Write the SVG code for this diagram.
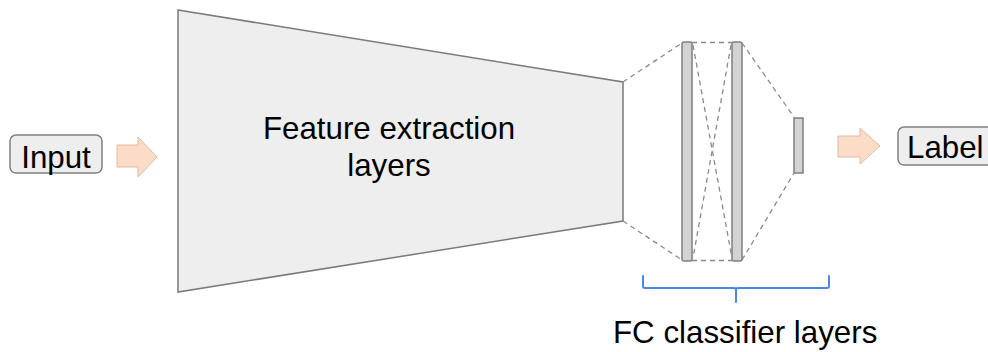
<svg xmlns="http://www.w3.org/2000/svg" width="988" height="352" viewBox="0 0 988 352">
  <style>
    text { font-family: "Liberation Sans", Arial, sans-serif; font-size: 31.3px; fill: #000; }
    .box { fill: #eeeeee; stroke: #808080; stroke-width: 1.5; }
    .trap { fill: #eeeeee; stroke: #7a7a7a; stroke-width: 1.5; }
    .bar { fill: #d3d3d3; stroke: #7f7f7f; stroke-width: 1.5; }
    .dash { fill: none; stroke: #8a8a8a; stroke-width: 1.3; stroke-dasharray: 5 4; }
    .arrow { fill: #fcdcc6; stroke: #dcbba4; stroke-width: 1; }
    .brace { fill: none; stroke: #4a86e8; stroke-width: 2; stroke-linejoin: round; stroke-linecap: round; }
  </style>

  <!-- input -->
  <g id="input">
    <rect class="box" x="10" y="135" width="92" height="38" rx="6"/>
    <text x="56" y="168" text-anchor="middle">Input</text>
  </g>

  <!-- feature extraction block -->
  <g id="feature-extraction">
    <polygon class="trap" points="178,10 623,82 623,221 178,292"/>
    <text x="389" y="139" text-anchor="middle">Feature extraction</text>
    <text x="389" y="176" text-anchor="middle">layers</text>
  </g>

  <!-- fully connected layers -->
  <g id="fc1">
    <rect class="bar" x="682" y="42" width="10" height="219" rx="2"/>
  </g>
  <g id="fc2">
    <rect class="bar" x="732" y="42" width="10" height="219" rx="2"/>
  </g>
  <g id="fc-out">
    <rect class="bar" x="794" y="118" width="9" height="55"/>
  </g>

  <!-- output -->
  <g id="label">
    <rect class="box" x="898" y="127" width="100" height="38" rx="6"/>
    <text x="907" y="158">Label</text>
  </g>

  <!-- bracket and caption -->
  <g id="fc-caption">
    <path class="brace" d="M643,276 V286 Q643,288 645,288 H734 Q736,288 736,290 V302 M736,290 Q736,288 738,288 H827 Q829,288 829,286 V276"/>
    <text x="613" y="343">FC classifier layers</text>
  </g>

  <!-- connectors -->
  <g id="connectors">
    <path class="arrow" d="M117,145 H138 V137 L157,157 L138,177 V167 H117 Z"/>
    <path class="arrow" d="M838,136 H860 V128 L880,146 L860,164 V157 H838 Z"/>
    <line class="dash" x1="623" y1="82" x2="682" y2="43"/>
    <line class="dash" x1="623" y1="221" x2="682" y2="260"/>
    <line class="dash" x1="692" y1="42.5" x2="732" y2="42.5"/>
    <line class="dash" x1="692" y1="260.5" x2="732" y2="260.5"/>
    <line class="dash" x1="693" y1="45" x2="732" y2="258"/>
    <line class="dash" x1="731" y1="45" x2="693" y2="258"/>
    <line class="dash" x1="742" y1="43" x2="794" y2="117"/>
    <line class="dash" x1="742" y1="260" x2="794" y2="173"/>
  </g>
</svg>
